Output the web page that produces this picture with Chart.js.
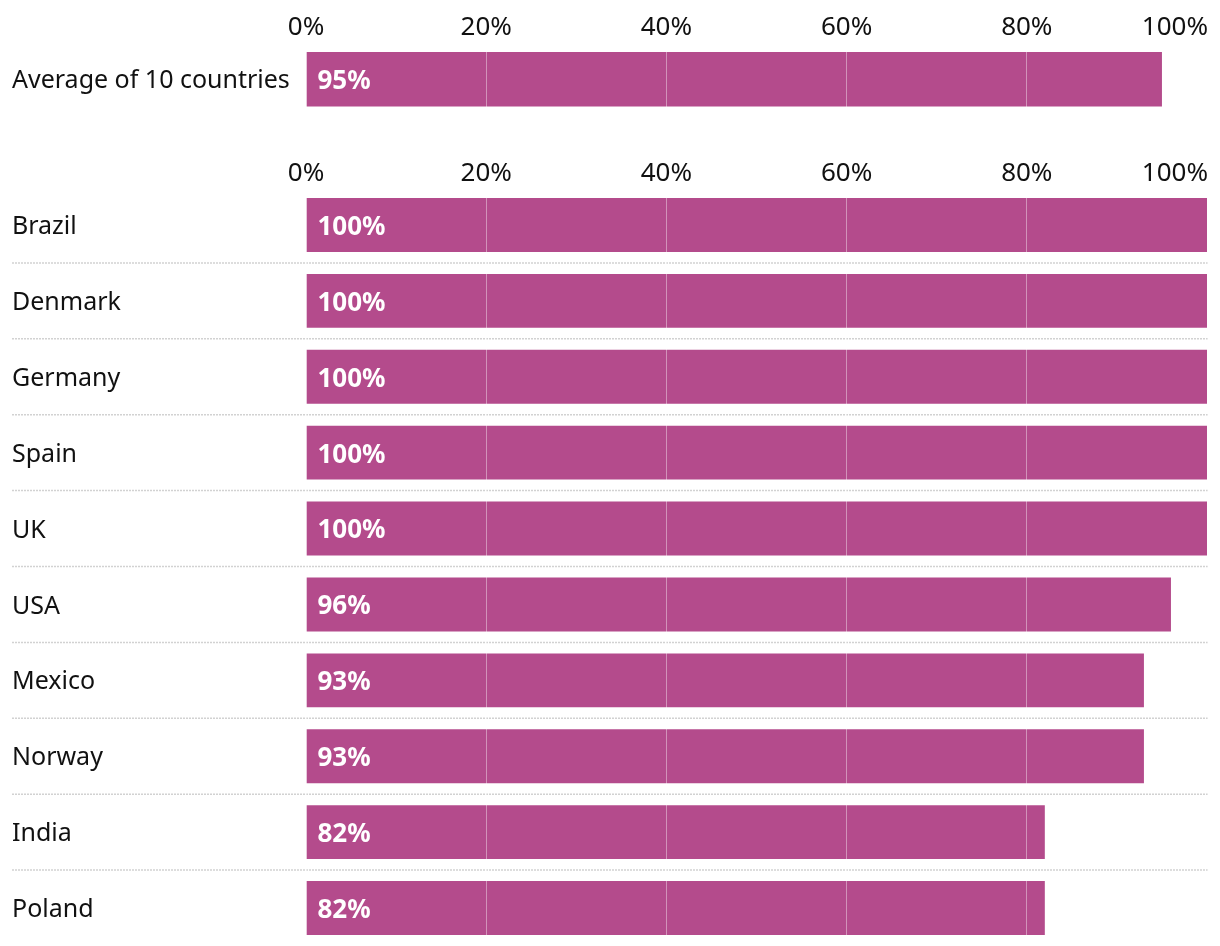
<!DOCTYPE html>
<html>
<head>
<meta charset="utf-8">
<script src="https://cdn.jsdelivr.net/npm/chart.js@4"></script>
<style>
  html, body { margin: 0; padding: 0; background: #ffffff; overflow: hidden; }
  .box { position: absolute; left: 0; width: 1220px; }
</style>
</head>
<body>
<div class="box" style="top:0;height:146px"><canvas id="avgChart"></canvas></div>
<div class="box" style="top:146px;height:800px"><canvas id="countryChart"></canvas></div>
<script>
// ---- data ----
const averageCategories = ['Average of 10 countries'];
const averageValues = [95];
const countryCategories = ['Brazil', 'Denmark', 'Germany', 'Spain', 'UK', 'USA', 'Mexico', 'Norway', 'India', 'Poland'];
const countryValues = [100, 100, 100, 100, 100, 96, 93, 93, 82, 82];
const tickValues = [0, 20, 40, 60, 80, 100];
const tickLabels = ['0%', '20%', '40%', '60%', '80%', '100%'];

// ---- style ----
const FONT = "'Noto Sans', 'Open Sans', sans-serif";
const BAR_COLOR = '#b44b8c';
const TEXT_COLOR = '#111111';
const TICK_SIZE = 26;

// value labels inside the bars
const valueLabelPlugin = {
  id: 'valueLabels',
  afterDraw(chart) {
    const ctx = chart.ctx;
    const meta = chart.getDatasetMeta(0);
    const data = chart.data.datasets[0].data;
    ctx.save();
    ctx.font = 'bold 26px ' + FONT;
    ctx.fillStyle = '#ffffff';
    ctx.textAlign = 'left';
    ctx.textBaseline = 'middle';
    meta.data.forEach((bar, i) => {
      ctx.fillText(data[i] + '%', bar.base + 11, bar.y + 2.5);
    });
    ctx.restore();
  }
};

// last x tick label, right-aligned to the end of the axis
const lastTickPlugin = {
  id: 'lastTick',
  afterDraw(chart) {
    const xs = chart.scales.x;
    const items = xs.getLabelItems(chart.chartArea);
    if (!items.length) return;
    const it = items[items.length - 1];
    const ctx = chart.ctx;
    ctx.save();
    ctx.font = TICK_SIZE + 'px ' + FONT;
    ctx.fillStyle = TEXT_COLOR;
    ctx.textAlign = 'right';
    ctx.textBaseline = 'middle';
    const x = xs.getPixelForValue(tickValues[tickValues.length - 1]) + 1;
    ctx.fillText(it.label, x, it.options.translation[1] + it.textOffset);
    ctx.restore();
  }
};

// dotted separators between rows
const separatorPlugin = {
  id: 'separators',
  beforeDatasetsDraw(chart) {
    const ys = chart.scales.y;
    const n = chart.data.labels.length;
    const ctx = chart.ctx;
    ctx.save();
    ctx.strokeStyle = '#d2d2d2';
    ctx.lineWidth = 1.5;
    ctx.setLineDash([2, 1]);
    for (let i = 0; i < n - 1; i++) {
      const y = (ys.getPixelForValue(i) + ys.getPixelForValue(i + 1)) / 2;
      ctx.beginPath();
      ctx.moveTo(12, y);
      ctx.lineTo(chart.chartArea.right + 1, y);
      ctx.stroke();
    }
    ctx.restore();
  }
};

function makeConfig(labels, values, padBottom, plugins) {
  return {
    type: 'bar',
    data: {
      labels: labels,
      datasets: [{
        data: values,
        backgroundColor: BAR_COLOR,
        borderWidth: 0,
        categoryPercentage: 1,
        barPercentage: 0.71
      }]
    },
    options: {
      indexAxis: 'y',
      responsive: true,
      maintainAspectRatio: false,
      animation: false,
      layout: { padding: { left: 12, right: 13, top: 15, bottom: padBottom } },
      plugins: { legend: { display: false }, tooltip: { enabled: false } },
      scales: {
        x: {
          position: 'top',
          min: 0,
          max: 100,
          afterBuildTicks(scale) { scale.ticks = tickValues.map(v => ({ value: v })); },
          afterFit(scale) { scale.paddingRight = 0; scale.paddingLeft = 0; },
          ticks: {
            callback: (v) => tickLabels[tickValues.indexOf(v)],
            maxRotation: 0,
            autoSkip: false,
            padding: 0,
            font: { family: FONT, size: TICK_SIZE, lineHeight: 1 },
            color: (c) => c.index === tickValues.length - 1 ? 'rgba(0,0,0,0)' : TEXT_COLOR
          },
          grid: {
            color: 'rgba(255,255,255,0.4)',
            lineWidth: 1,
            drawTicks: false,
            z: 1
          },
          border: { display: false }
        },
        y: {
          afterFit(scale) { scale.width = 294; scale.paddingTop = 0; scale.paddingBottom = 0; },
          ticks: {
            crossAlign: 'far',
            padding: 0,
            labelOffset: 2,
            font: { family: FONT, size: 25 },
            color: TEXT_COLOR
          },
          grid: { display: false },
          border: { display: false }
        }
      }
    },
    plugins: plugins
  };
}

new Chart(document.getElementById('avgChart'),
  makeConfig(averageCategories, averageValues, 28.5, [valueLabelPlugin, lastTickPlugin]));
new Chart(document.getElementById('countryChart'),
  makeConfig(countryCategories, countryValues, 0, [separatorPlugin, valueLabelPlugin, lastTickPlugin]));
</script>
</body>
</html>
